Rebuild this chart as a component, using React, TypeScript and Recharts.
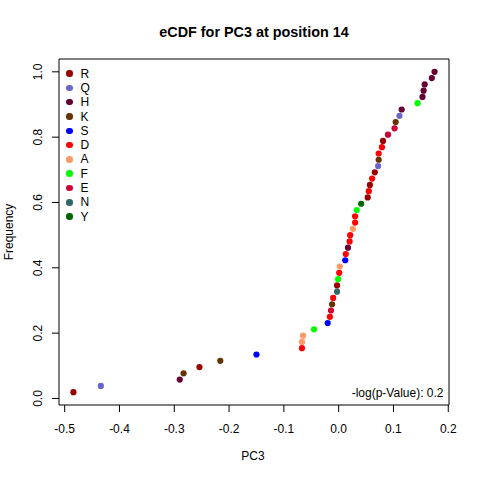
import React from "react";
import { ScatterChart, Scatter, XAxis, YAxis, ReferenceArea, Legend } from "recharts";

// residue groups, legend order and colours
const residueOrder = ["R", "Q", "H", "K", "S", "D", "A", "F", "E", "N", "Y"];
const residueColors = [
  "#990000", "#6666CC", "#660033", "#663300", "#0000FF", "#FF0000",
  "#FF9966", "#00FF00", "#CC0033", "#336666", "#006600",
];

// sorted PC3 values and the residue of each observation
const pc3Values = [
  -0.484, -0.434, -0.29, -0.283, -0.254, -0.216, -0.15, -0.067, -0.067, -0.065,
  -0.045, -0.02, -0.016, -0.014, -0.012, -0.01, -0.003, -0.003, -0.001, 0.001,
  0.002, 0.012, 0.013, 0.017, 0.02, 0.021, 0.026, 0.03, 0.03, 0.033,
  0.041, 0.053, 0.055, 0.057, 0.061, 0.066, 0.072, 0.073, 0.073, 0.079,
  0.081, 0.09, 0.102, 0.104, 0.111, 0.115, 0.144, 0.153, 0.155, 0.157,
  0.17, 0.175,
];
const pointResidues = [
  "R", "Q", "H", "K", "R", "K", "S", "D", "A", "A",
  "F", "S", "D", "E", "K", "D", "N", "R", "F", "D",
  "A", "S", "D", "H", "D", "D", "A", "D", "D", "F",
  "Y", "R", "D", "R", "D", "R", "Q", "K", "D", "D",
  "R", "E", "E", "K", "Q", "H", "F", "H", "H", "H",
  "H", "H",
];

const xTicks = [-0.5, -0.4, -0.3, -0.2, -0.1, 0, 0.1, 0.2];
const yTicks = [0, 0.2, 0.4, 0.6, 0.8, 1];

const titleText = "eCDF for PC3 at position 14";
const xLabel = "PC3";
const yLabel = "Frequency";
const pValueText = "-log(p-Value): 0.2";

const FONT = "'Liberation Sans', Arial, Helvetica, sans-serif";

// empirical CDF
const n = pc3Values.length;
const points = pc3Values.map((x, i) => ({ x, y: (i + 1) / n, residue: pointResidues[i] }));

// R style 4% axis expansion
const pad = (lo: number, hi: number): [number, number] => {
  const d = (hi - lo) * 0.04;
  return [lo - d, hi + d];
};
const xDomain = pad(Math.min(...pc3Values), Math.max(...pc3Values));
const yDomain = pad(1 / n, 1);

const series = residueOrder.map((r, k) => ({
  name: r,
  color: residueColors[k],
  data: points.filter((p) => p.residue === r),
}));

const XTick = ({ x, y, payload }: any) => (
  <text x={x} y={y} dy={19} textAnchor="middle" fontSize={12} fill="#000" fontFamily={FONT}>
    {payload.value.toFixed(1)}
  </text>
);

const YTick = ({ x, y, payload }: any) => (
  <text
    x={x - 7.5}
    y={y}
    textAnchor="middle"
    fontSize={12}
    fill="#000"
    fontFamily={FONT}
    transform={`rotate(-90, ${x - 7.5}, ${y})`}
  >
    {payload.value.toFixed(1)}
  </text>
);

const Dot = (color: string) => (props: any) =>
  <circle cx={props.cx} cy={props.cy} r={3.1} fill={color} />;

const LegendBox = () => (
  <div style={{ fontFamily: FONT, fontSize: 12 }}>
    {residueOrder.map((r, k) => (
      <div key={r} style={{ display: "flex", alignItems: "center", height: 14.3 }}>
        <span
          style={{
            width: 6.5,
            height: 6.5,
            borderRadius: "50%",
            background: residueColors[k],
            marginRight: 8,
            display: "inline-block",
          }}
        />
        <span style={{ color: "#000", lineHeight: "14px" }}>{r}</span>
      </div>
    ))}
  </div>
);

export default function App() {
  return (
    <div style={{ position: "fixed", top: 0, left: 0, width: 480, height: 480, background: "#fff" }}>
      <ScatterChart width={480} height={480} margin={{ top: 59, right: 31, bottom: 0, left: 0 }}>
        <XAxis
          type="number"
          dataKey="x"
          domain={xDomain}
          ticks={xTicks}
          allowDataOverflow
          axisLine={false}
          tickLine={{ stroke: "#000" }}
          tickSize={7}
          height={75}
          tick={<XTick />}
          interval={0}
        />
        <YAxis
          type="number"
          dataKey="y"
          domain={yDomain}
          ticks={yTicks}
          allowDataOverflow
          axisLine={false}
          tickLine={{ stroke: "#000" }}
          tickSize={7}
          width={59}
          tick={<YTick />}
          interval={0}
        />
        <ReferenceArea
          x1={xDomain[0]}
          x2={xDomain[1]}
          y1={yDomain[0]}
          y2={yDomain[1]}
          fill="none"
          fillOpacity={0}
          stroke="#000"
          strokeWidth={1}
          strokeOpacity={1}
          ifOverflow="visible"
        />
        {series.map((s) => (
          <Scatter
            key={s.name}
            name={s.name}
            data={s.data}
            fill={s.color}
            shape={Dot(s.color)}
            isAnimationActive={false}
          />
        ))}
        <Legend
          layout="horizontal"
          verticalAlign="middle"
          align="center"
          wrapperStyle={{ top: 66.5, left: 66, width: 40 }}
          content={<LegendBox />}
        />
      </ScatterChart>
      <svg
        width={480}
        height={480}
        style={{ position: "absolute", top: 0, left: 0, pointerEvents: "none" }}
        fontFamily={FONT}
      >
        <text x={254} y={36.7} textAnchor="middle" fontSize={14.4} fontWeight="bold" fill="#000">
          {titleText}
        </text>
        <text x={253} y={460} textAnchor="middle" fontSize={12} fill="#000">
          {xLabel}
        </text>
        <text x={12.5} y={232} textAnchor="middle" fontSize={12} fill="#000" transform="rotate(-90, 12.5, 232)">
          {yLabel}
        </text>
        <text x={443.5} y={397} textAnchor="end" fontSize={12} fill="#000">
          {pValueText}
        </text>
      </svg>
    </div>
  );
}
